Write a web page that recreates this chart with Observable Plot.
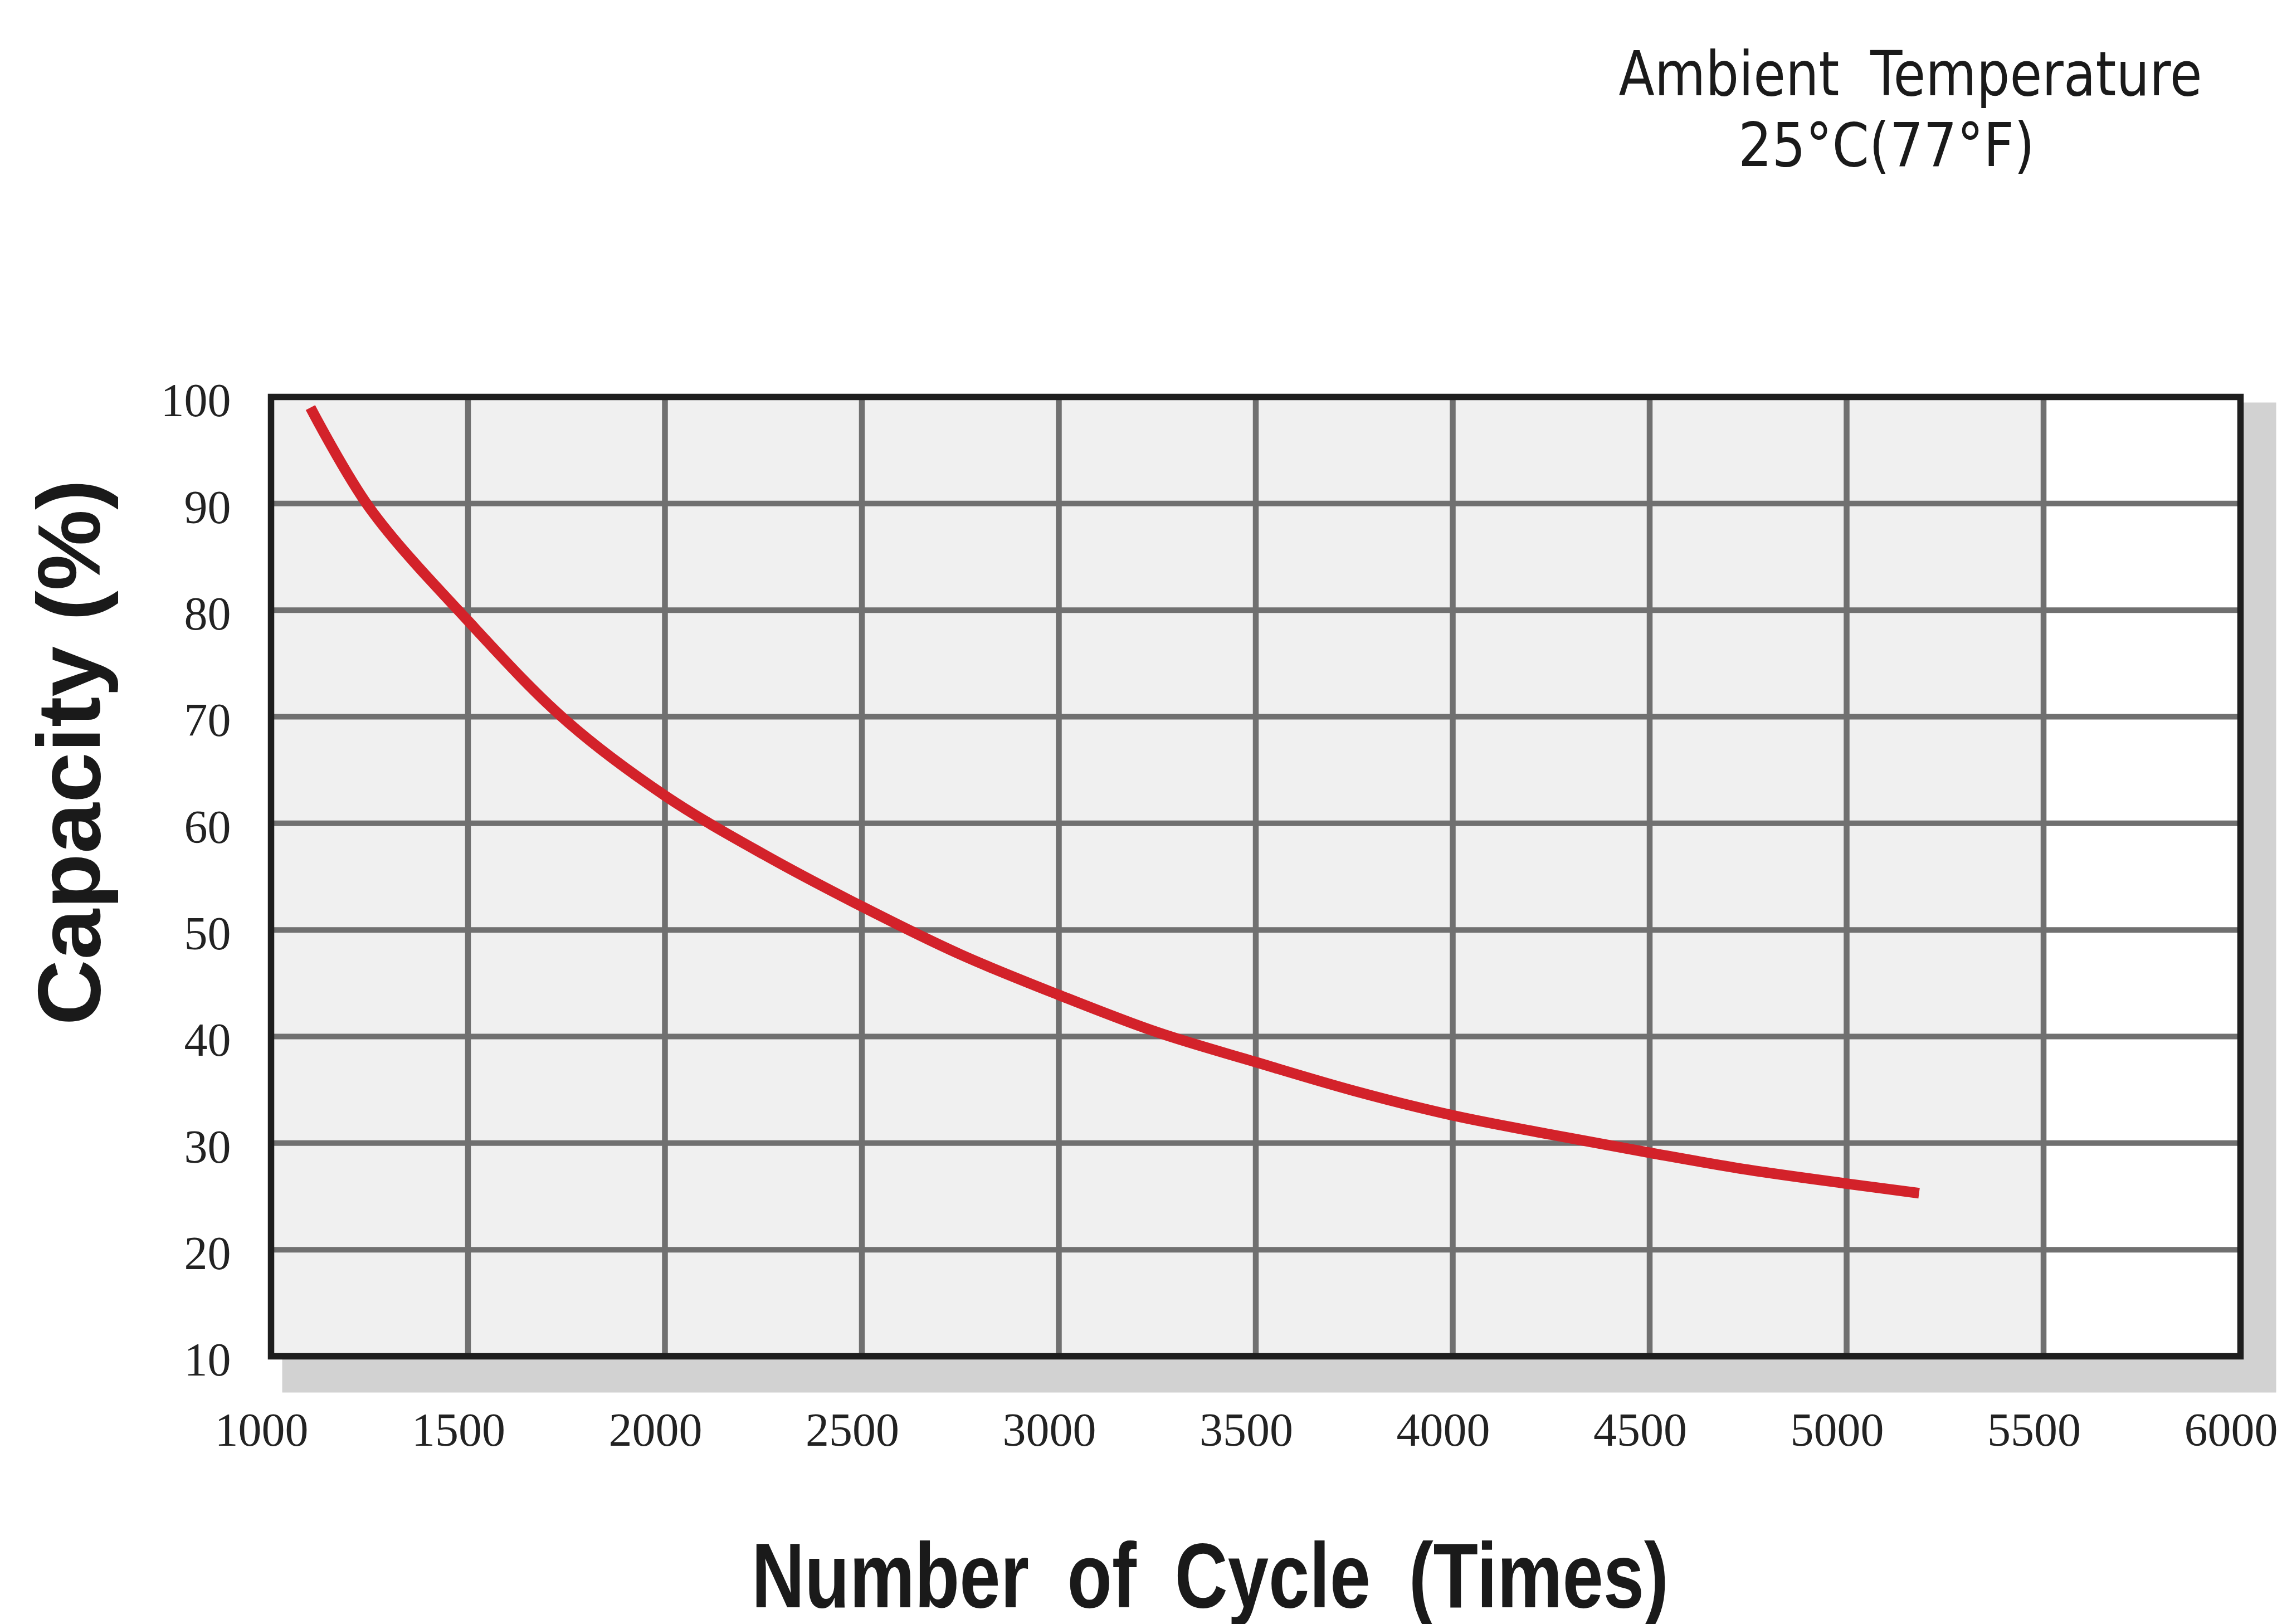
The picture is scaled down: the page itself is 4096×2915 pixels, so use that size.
<!DOCTYPE html>
<html>
<head>
<meta charset="utf-8">
<script src="https://cdn.jsdelivr.net/npm/d3@7"></script>
<script src="https://cdn.jsdelivr.net/npm/@observablehq/plot@0.6"></script>
<style>
  html, body { margin: 0; padding: 0; background: white; }
</style>
</head>
<body>
<div id="chart"></div>
<script>
// ---- data ----
const cycles = [1100, 1250, 1500, 1750, 2000, 2250, 2500, 2750, 3000, 3250, 3500, 3750, 4000, 4250, 4500, 4750, 5000, 5184];
const capacity = [99, 89.6, 79, 69.6, 62.6, 57.1, 52.2, 47.7, 43.9, 40.4, 37.6, 34.9, 32.6, 30.8, 29.1, 27.5, 26.2, 25.3];
const xTicks = [1000, 1500, 2000, 2500, 3000, 3500, 4000, 4500, 5000, 5500, 6000];
const yTicks = [10, 20, 30, 40, 50, 60, 70, 80, 90, 100];
const xGrid = [1500, 2000, 2500, 3000, 3500, 4000, 4500, 5000, 5500];
const yGrid = [20, 30, 40, 50, 60, 70, 80, 90];
const shadedSpan = [[1000, 5500]];
const xTitle = "Number of Cycle (Times)";
const yTitle = "Capacity (%)";
const noteLine1 = "Ambient Temperature";
const noteLine2 = "25°C(77°F)";

const rows = cycles.map((c, i) => ({cycle: c, capacity: capacity[i]}));

const chart = Plot.plot({
  width: 4096,
  height: 2915,
  marginLeft: 486,
  marginRight: 75,
  marginTop: 712,
  marginBottom: 481,
  style: {background: "white", overflow: "visible"},
  x: {domain: [1000, 6000]},
  y: {domain: [10, 100]},
  marks: [
    Plot.frame({fill: "#d2d2d2", insetLeft: 20, insetTop: 10, insetRight: -64, insetBottom: -65}),
    Plot.frame({fill: "white"}),
    Plot.rect(shadedSpan, {x1: d => d[0], x2: d => d[1], fill: "#f0f0f0"}),
    Plot.gridX(xGrid, {stroke: "#707070", strokeOpacity: 1, strokeWidth: 10.5}),
    Plot.gridY(yGrid, {stroke: "#707070", strokeOpacity: 1, strokeWidth: 10}),
    Plot.frame({stroke: "#1e1e1e", strokeWidth: 11.5}),
    Plot.line(rows, {x: "cycle", y: "capacity", stroke: "#d3222a", strokeWidth: 19, curve: "catmull-rom", strokeLinecap: "butt"}),
    Plot.axisX(xTicks, {tickSize: 0, tickPadding: 101, fontSize: 84, fontFamily: "Liberation Serif", color: "#222", dx: -17, label: null, tickFormat: d => String(d)}),
    Plot.axisY(yTicks, {tickSize: 0, tickPadding: 72, fontSize: 84, fontFamily: "Liberation Serif", color: "#222", dy: 8, label: null, tickFormat: d => String(d)}),
    Plot.text([xTitle], {text: d => d, frameAnchor: "bottom", textAnchor: "middle", lineAnchor: "bottom", dx: -82, dy: 450, fontSize: 165, fontWeight: "bold", fontFamily: "Liberation Sans", fill: "#1a1a1a"}),
    Plot.text([yTitle], {text: d => d, frameAnchor: "left", textAnchor: "middle", lineAnchor: "bottom", rotate: -90, dx: -308, dy: -223, fontSize: 160, fontWeight: "bold", fontFamily: "Liberation Sans", fill: "#1a1a1a"}),
    Plot.text([noteLine1], {text: d => d, frameAnchor: "top", textAnchor: "middle", lineAnchor: "bottom", dx: 1175, dy: -542, fontSize: 110, fontFamily: "DejaVu Sans", fill: "#1a1a1a"}),
    Plot.text([noteLine2], {text: d => d, frameAnchor: "top", textAnchor: "middle", lineAnchor: "bottom", dx: 1132, dy: -415, fontSize: 108, fontFamily: "DejaVu Sans", fill: "#1a1a1a"})
  ]
});

const lengths = {};
lengths[xTitle] = 1646;
lengths[yTitle] = 980;
lengths[noteLine1] = 1047;
lengths[noteLine2] = 532;
const wordSpacing = {};
wordSpacing[xTitle] = "40px";
wordSpacing[noteLine1] = "30px";
d3.select(chart).selectAll("text").each(function() {
  const t = this.textContent;
  if (wordSpacing[t]) this.style.wordSpacing = wordSpacing[t];
  if (lengths[t]) {
    this.setAttribute("textLength", lengths[t]);
    this.setAttribute("lengthAdjust", "spacingAndGlyphs");
  }
});

document.getElementById("chart").appendChild(chart);
</script>
</body>
</html>
